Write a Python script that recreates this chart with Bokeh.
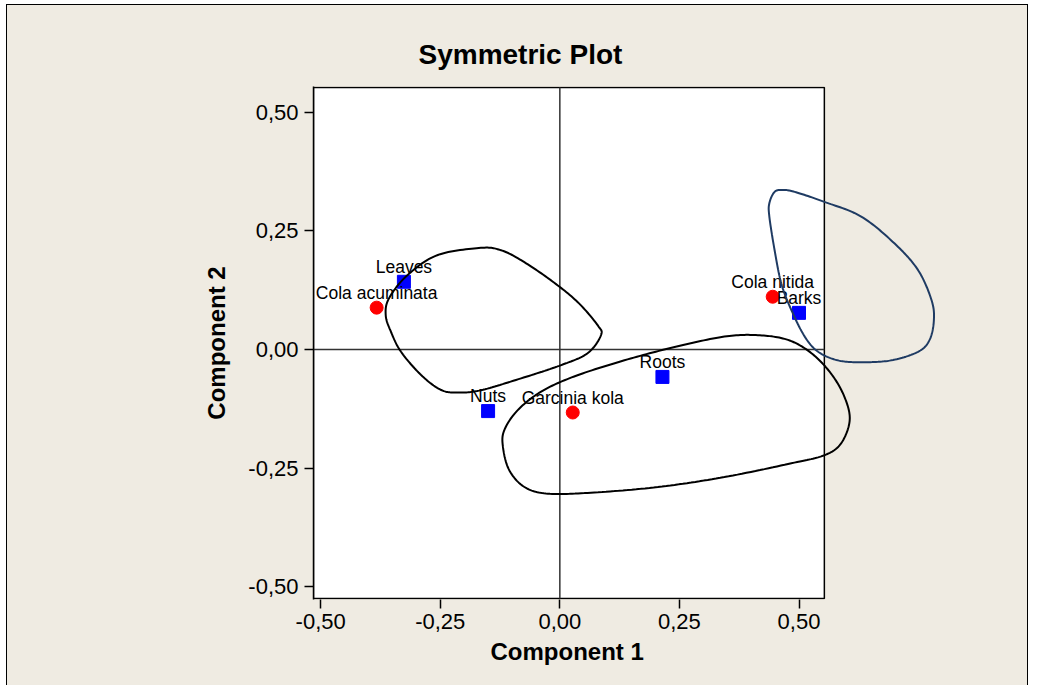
import numpy as np
from bokeh.plotting import figure
from bokeh.models import BoxAnnotation, FixedTicker, CustomJSTickFormatter, Title
from bokeh.core.properties import value
from bokeh.embed import file_html
from bokeh.resources import INLINE

# ---- data ----
row_names = ["Barks", "Leaves", "Nuts", "Roots"]
row_x = [0.500, -0.326, -0.150, 0.2145]
row_y = [0.077, 0.1425, -0.130, -0.058]

col_names = ["Cola acuminata", "Cola nitida", "Garcinia kola"]
col_x = [-0.383, 0.445, 0.027]
col_y = [0.088, 0.111, -0.133]

tick_values = [-0.50, -0.25, 0.00, 0.25, 0.50]

# plot-area limits (data units) of the white panel
x_lo, x_hi = -0.515, 0.553
y_lo, y_hi = -0.525, 0.552

# outline curves (control points, data units)
curve_a_x = [-0.165, -0.255, -0.318, -0.357, -0.364, -0.353, -0.332, -0.290, -0.249, -0.214,
             -0.165, -0.081, 0.003, 0.058, 0.086, 0.079, 0.037, -0.019, -0.081, -0.123]
curve_a_y = [0.214, 0.199, 0.157, 0.108, 0.072, 0.037, -0.005, -0.054, -0.085, -0.091,
             -0.086, -0.061, -0.033, -0.008, 0.030, 0.051, 0.100, 0.146, 0.188, 0.209]

curve_b_x = [0.414, 0.344, 0.240, 0.135, 0.030, -0.039, -0.088, -0.116, -0.119, -0.106, -0.074,
             -0.025, 0.065, 0.205, 0.344, 0.484, 0.553, 0.588, 0.606, 0.595, 0.567, 0.526, 0.477]
curve_b_y = [0.030, 0.027, 0.005, -0.023, -0.057, -0.089, -0.128, -0.170, -0.205, -0.254, -0.290,
             -0.304, -0.302, -0.290, -0.269, -0.240, -0.223, -0.198, -0.149, -0.100, -0.051, -0.008, 0.020]

curve_c_x = [0.449, 0.438, 0.438, 0.449, 0.463, 0.484, 0.512, 0.540, 0.581, 0.630, 0.693,
             0.749, 0.773, 0.782, 0.777, 0.749, 0.700, 0.630, 0.553, 0.491, 0.466]
curve_c_y = [0.332, 0.308, 0.280, 0.209, 0.139, 0.083, 0.027, -0.005, -0.023, -0.027, -0.023,
             -0.005, 0.020, 0.062, 0.104, 0.167, 0.223, 0.280, 0.311, 0.332, 0.336]


def closed_spline(px, py, n=16):
    P = np.column_stack([px, py])
    m = len(P)
    t = np.linspace(0, 1, n, endpoint=False)[:, None]
    out = []
    for i in range(m):
        p0, p1, p2, p3 = P[(i - 1) % m], P[i], P[(i + 1) % m], P[(i + 2) % m]
        seg = 0.5 * ((2 * p1) + (-p0 + p2) * t + (2 * p0 - 5 * p1 + 4 * p2 - p3) * t ** 2
                     + (-p0 + 3 * p1 - 3 * p2 + p3) * t ** 3)
        out.append(seg)
    out = np.vstack(out + [out[0][:1]])
    return out[:, 0].tolist(), out[:, 1].tolist()


FONT = "Liberation Sans"
BEIGE = "#EFEBE2"

px_per_unit = 478.3
ypad = 1.0 / 474.4  # one pixel of room above/below the white panel
x_end = 0.80
frame_w = int(round((x_end - x_lo) * px_per_unit))

p = figure(width=1022, height=681,
           x_range=(x_lo, x_end), y_range=(y_lo - ypad, y_hi + ypad),
           output_backend="svg", toolbar_location=None,
           min_border_left=306, min_border_right=1022 - 306 - frame_w,
           min_border_top=81, min_border_bottom=681 - 81 - 513)

p.background_fill_color = None
p.border_fill_color = None
p.outline_line_color = None
p.grid.visible = False
p.styles = {"margin-left": "6px", "margin-top": "4px", "background-color": BEIGE,
            "border-top": "1px solid black", "border-left": "1px solid black",
            "border-right": "1px solid black"}

# white plot panel with black frame
p.add_layout(BoxAnnotation(left=x_lo, right=x_hi, bottom=y_lo, top=y_hi,
                           fill_color="white", fill_alpha=1.0,
                           line_color="black", line_width=1.5, line_alpha=1.0,
                           level="underlay"))

p.title.text = "Symmetric Plot"
p.title.text_font = FONT
p.title.text_font_style = "bold"
p.title.text_font_size = "28px"
p.title.text_color = "black"
p.title.align = "left"
p.title.offset = 105
p.title.standoff = 34

fmt = CustomJSTickFormatter(code="return tick.toFixed(2).replace('.', ',');")
for ax in (p.xaxis[0], p.yaxis[0]):
    ax.ticker = FixedTicker(ticks=tick_values)
    ax.formatter = fmt
    ax.major_label_text_font = FONT
    ax.major_label_text_font_size = "22px"
    ax.major_label_text_color = "black"
    ax.axis_label_text_font = FONT
    ax.axis_label_text_font_style = "bold"
    ax.axis_label_text_font_size = "24px"
    ax.axis_label_text_color = "black"
    ax.axis_line_color = "black"
    ax.axis_line_width = 1.5
    ax.major_tick_line_color = "black"
    ax.major_tick_line_width = 1.5
    ax.major_tick_in = 0
    ax.major_tick_out = 9
    ax.minor_tick_line_color = None

p.xaxis.axis_line_color = None
p.xaxis.major_label_standoff = 5
p.yaxis.axis_label = "Component 2"
p.yaxis.major_label_standoff = 6
p.yaxis.axis_label_standoff = 15

p.add_layout(Title(text="Component 1", align="left", offset=177, text_font=FONT,
                   text_font_style="bold", text_font_size="24px", text_color="black",
                   standoff=8), "below")

# reference lines at zero
p.segment(x0=[x_lo], y0=[0], x1=[x_hi], y1=[0], line_color="#333333", line_width=1.5)
p.segment(x0=[0], y0=[y_lo], x1=[0], y1=[y_hi], line_color="#333333", line_width=1.5)

p.scatter(row_x, row_y, marker="square", size=13, color="#0000FF")
p.scatter(col_x, col_y, marker="circle", size=13, color="#FF0000")

p.text(row_x, row_y, text=row_names, text_font=value(FONT), text_font_size="17.5px",
       text_align="center", text_baseline="alphabetic", y_offset=-15, text_color="black")
p.text(col_x, col_y, text=col_names, text_font=value(FONT), text_font_size="17.5px",
       text_align="center", text_baseline="alphabetic", y_offset=-15, text_color="black")

for cx, cy, colr in ((curve_a_x, curve_a_y, "black"),
                     (curve_b_x, curve_b_y, "black"),
                     (curve_c_x, curve_c_y, "#1F3B63")):
    sx, sy = closed_spline(cx, cy)
    p.line(sx, sy, line_color=colr, line_width=2)

open("out.html", "w").write(file_html(p, INLINE))
